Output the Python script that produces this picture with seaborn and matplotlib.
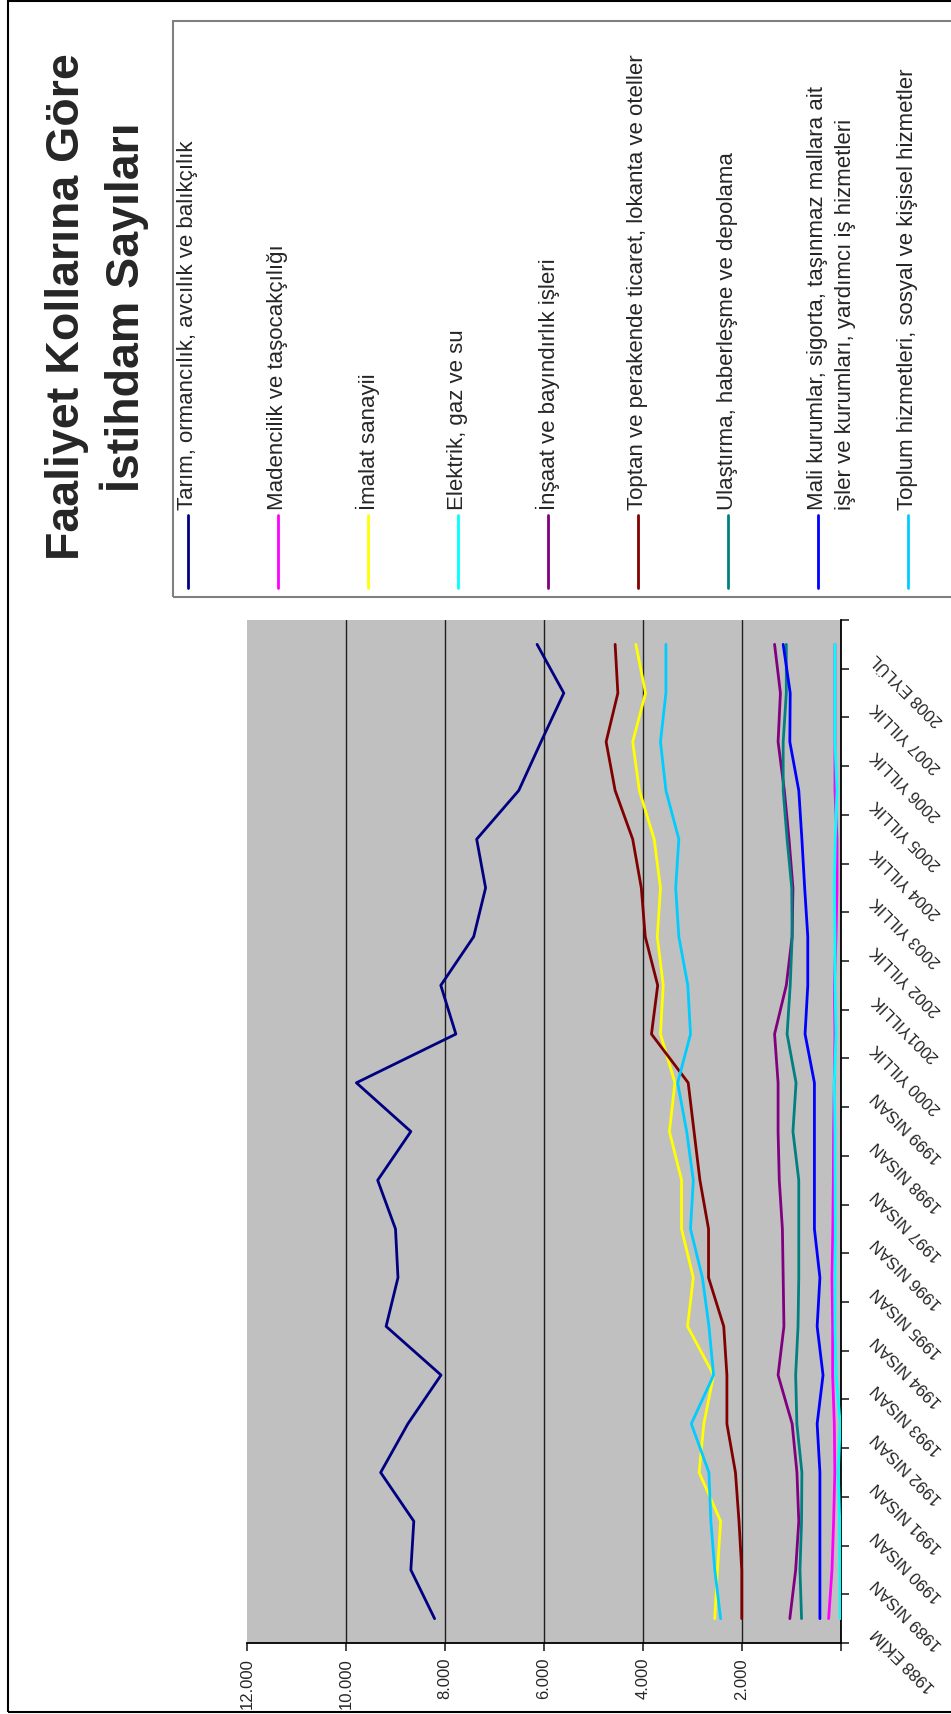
import numpy as np
import pandas as pd
import seaborn as sns
import matplotlib
matplotlib.use('Agg')
import matplotlib.pyplot as plt
from matplotlib.lines import Line2D
from matplotlib.patches import Rectangle
from matplotlib import transforms

sns.set_style('white')
plt.rcParams['font.family'] = ['Liberation Sans', 'DejaVu Sans']

# donemler (kategori ekseni)
donemler = ['1988 EKİM', '1989 NISAN', '1990 NISAN', '1991 NISAN', '1992 NISAN',
            '1993 NISAN', '1994 NISAN', '1995 NISAN', '1996 NISAN', '1997 NISAN',
            '1998 NISAN', '1999 NISAN', '2000 YILLIK', '2001YILLIK', '2002 YILLIK',
            '2003 YILLIK', '2004 YILLIK', '2005 YILLIK', '2006 YILLIK', '2007 YILLIK',
            '2008 EYLÜL']

# istihdam (bin kisi)
tarim = [8210, 8690, 8630, 9300, 8750, 8080, 9190, 8950, 9000, 9360, 8690,
         9790, 7780, 8085, 7420, 7180, 7360, 6510, 6060, 5600, 6140]
madencilik = [250, 182, 149, 125, 135, 169, 169, 182, 165, 155, 149,
              135, 122, 135, 101, 81, 81, 122, 122, 122, 122]
imalat = [2550, 2495, 2432, 2866, 2771, 2574, 3100, 2984, 3221, 3221, 3466,
          3355, 3647, 3592, 3711, 3647, 3774, 4074, 4208, 3948, 4145]
elektrik = [15, 20, 25, 55, 15, 100, 122, 120, 115, 120, 122,
            135, 101, 122, 122, 135, 115, 81, 122, 122, 122]
insaat = [1034, 916, 853, 890, 987, 1271, 1153, 1168, 1184, 1247, 1271,
          1271, 1342, 1105, 987, 971, 1050, 1145, 1271, 1224, 1342]
toptan = [2005, 2005, 2061, 2132, 2305, 2305, 2369, 2676, 2676, 2850, 2969,
          3087, 3829, 3703, 3955, 4034, 4208, 4563, 4745, 4508, 4563]
ulastirma = [797, 829, 797, 790, 892, 916, 868, 853, 853, 853, 971,
             908, 1089, 1026, 987, 995, 1089, 1168, 1168, 1105, 1105]
mali = [426, 426, 426, 426, 482, 363, 482, 426, 537, 537, 537,
        537, 726, 671, 671, 734, 790, 853, 1034, 1026, 1168]
toplum = [2432, 2550, 2629, 2668, 3024, 2574, 2668, 2800, 3040, 2984, 3118,
          3300, 3040, 3095, 3276, 3340, 3276, 3537, 3647, 3537, 3537]

kollar = ['Tarım, ormancılık, avcılık ve balıkçılık',
          'Madencilik ve taşocakçılığı',
          'İmalat sanayii',
          'Elektrik, gaz ve su',
          'İnşaat ve bayındırlık işleri',
          'Toptan ve perakende ticaret, lokanta ve oteller',
          'Ulaştırma, haberleşme ve depolama',
          'Mali kurumlar, sigorta, taşınmaz mallara ait\nişler ve kurumları, yardımcı iş hizmetleri',
          'Toplum hizmetleri, sosyal ve kişisel hizmetler']
seriler = [tarim, madencilik, imalat, elektrik, insaat, toptan, ulastirma, mali, toplum]
renkler = ['#000080', '#FF00FF', '#FFFF00', '#00FFFF', '#800080',
           '#800000', '#008080', '#0000FF', '#00CCFF']

deger_etiket = [0, 2000, 4000, 6000, 8000, 10000, 12000]

rows = []
for kol, seri in zip(kollar, seriler):
    for i, v in enumerate(seri):
        rows.append({'kol': kol, 'konum': i + 0.5, 'deger': v})
df = pd.DataFrame(rows)

W, H = 951, 1715
fig = plt.figure(figsize=(W / 100, H / 100), dpi=100)

def fx(px):
    return px / W

def fy(py):
    return 1 - py / H

ax = fig.add_axes([fx(247), fy(1644), fx(841) - fx(247), fy(621) - fy(1644)])
ax.set_facecolor('#C0C0C0')

for v in deger_etiket[1:-1]:
    ax.axvline(v, color='#202020', lw=1.0, zorder=1)

sns.lineplot(data=df, x='deger', y='konum', hue='kol', hue_order=kollar,
             palette=renkler, orient='y', sort=False, estimator=None,
             errorbar=None, legend=False, lw=2.0, ax=ax, zorder=3)

ax.set_xlim(12000, 0)
ax.set_ylim(0, len(donemler))
ax.set_xlabel('')
ax.set_ylabel('')

for s in ['top', 'left']:
    ax.spines[s].set_visible(False)
for s in ['bottom', 'right']:
    ax.spines[s].set_color('black')
    ax.spines[s].set_linewidth(1.3)

ax.set_xticks(deger_etiket)
ax.set_xticklabels(['' if v == 0 else f'{v:,}'.replace(',', '.') for v in deger_etiket],
                   rotation=90, fontsize=12)
ax.tick_params(axis='x', direction='out', length=6, width=1.2, pad=4, bottom=True)

ax.yaxis.tick_right()
ax.set_yticks(range(len(donemler) + 1))
ax.set_yticklabels([])
ax.tick_params(axis='y', direction='out', length=6, width=1.2, right=True, left=False)

# kategori etiketleri (egik)
tr = transforms.blended_transform_factory(ax.transAxes, ax.transData) + \
    transforms.ScaledTranslation(33 / 100, -11 / 100, fig.dpi_scale_trans)
for i, d in enumerate(donemler):
    ax.text(1, i + 0.5, d, transform=tr, rotation=135, rotation_mode='anchor',
            ha='right', va='center', fontsize=12)

# baslik
fig.text(fx(97), fy(307), 'Faaliyet Kollarına Göre\nİstihdam Sayıları', rotation=90,
         ha='center', va='center', multialignment='center', fontsize=33.5,
         fontweight='bold', linespacing=1.25)

# lejant
fig.add_artist(Rectangle((fx(173), fy(598)), 1.0, fy(22) - fy(598), fill=False,
                         ec='#808080', lw=1.5, transform=fig.transFigure))
for k, (kol, renk) in enumerate(zip(kollar, renkler)):
    x = 188 + 90 * k
    fig.add_artist(Line2D([fx(x), fx(x)], [fy(589), fy(516)], color=renk, lw=2.0,
                          transform=fig.transFigure))
    for j, satir in enumerate(kol.split('\n')):
        fig.text(fx(x + 28 * j), fy(510), satir, rotation=90, rotation_mode='anchor',
                 ha='left', va='center', fontsize=16)

# dis cerceve
fig.add_artist(Rectangle((fx(8), fy(1713)), 1.0, fy(2) - fy(1713), fill=False,
                         ec='black', lw=1.5, transform=fig.transFigure))

fig.savefig('out.png', dpi=100)
